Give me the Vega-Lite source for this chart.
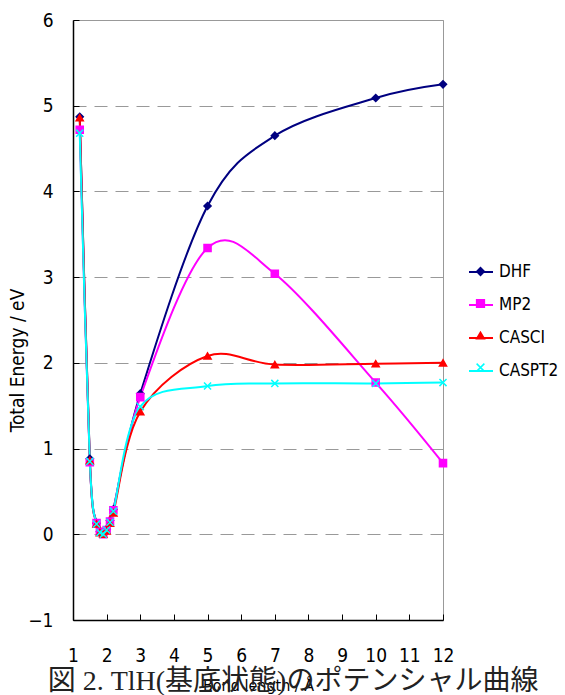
{
  "$schema": "https://vega.github.io/schema/vega-lite/v6.json",
  "width": 370,
  "height": 600,
  "autosize": {"type": "none"},
  "padding": {"left": 73, "top": 20, "right": 122, "bottom": 75},
  "background": "white",
  "title": {
    "text": "図 2. TlH(基底状態)のポテンシャル曲線",
    "orient": "bottom",
    "anchor": "middle",
    "frame": "group",
    "font": "Liberation Serif, Noto Sans CJK JP",
    "fontSize": 28,
    "fontWeight": "normal",
    "color": "#222",
    "offset": -25,
    "dx": 35
  },
  "config": {
    "view": {"stroke": "#999", "strokeWidth": 1},
    "font": "DejaVu Sans Condensed",
    "legend": {"padding": 0}
  },
  "data": {
    "values": [
      {"series": "DHF", "x": 1.2, "y": 4.87},
      {"series": "DHF", "x": 1.5, "y": 0.88},
      {"series": "DHF", "x": 1.7, "y": 0.13},
      {"series": "DHF", "x": 1.8, "y": 0.03},
      {"series": "DHF", "x": 1.9, "y": 0.01},
      {"series": "DHF", "x": 2.0, "y": 0.06},
      {"series": "DHF", "x": 2.1, "y": 0.16},
      {"series": "DHF", "x": 2.2, "y": 0.29},
      {"series": "DHF", "x": 3, "y": 1.64},
      {"series": "DHF", "x": 5, "y": 3.83},
      {"series": "DHF", "x": 7, "y": 4.65},
      {"series": "DHF", "x": 10, "y": 5.09},
      {"series": "DHF", "x": 12, "y": 5.25},
      {"series": "MP2", "x": 1.2, "y": 4.72},
      {"series": "MP2", "x": 1.5, "y": 0.84},
      {"series": "MP2", "x": 1.7, "y": 0.13},
      {"series": "MP2", "x": 1.8, "y": 0.03},
      {"series": "MP2", "x": 1.9, "y": 0.0},
      {"series": "MP2", "x": 2.0, "y": 0.05},
      {"series": "MP2", "x": 2.1, "y": 0.15},
      {"series": "MP2", "x": 2.2, "y": 0.28},
      {"series": "MP2", "x": 3, "y": 1.60},
      {"series": "MP2", "x": 5, "y": 3.34},
      {"series": "MP2", "x": 7, "y": 3.04},
      {"series": "MP2", "x": 10, "y": 1.77},
      {"series": "MP2", "x": 12, "y": 0.83},
      {"series": "CASCI", "x": 1.2, "y": 4.86},
      {"series": "CASCI", "x": 1.5, "y": 0.86},
      {"series": "CASCI", "x": 1.7, "y": 0.12},
      {"series": "CASCI", "x": 1.8, "y": 0.02},
      {"series": "CASCI", "x": 1.9, "y": 0.0},
      {"series": "CASCI", "x": 2.0, "y": 0.04},
      {"series": "CASCI", "x": 2.1, "y": 0.13},
      {"series": "CASCI", "x": 2.2, "y": 0.25},
      {"series": "CASCI", "x": 3, "y": 1.43},
      {"series": "CASCI", "x": 5, "y": 2.08},
      {"series": "CASCI", "x": 7, "y": 1.98},
      {"series": "CASCI", "x": 10, "y": 1.99},
      {"series": "CASCI", "x": 12, "y": 2.00},
      {"series": "CASPT2", "x": 1.2, "y": 4.68},
      {"series": "CASPT2", "x": 1.5, "y": 0.85},
      {"series": "CASPT2", "x": 1.7, "y": 0.12},
      {"series": "CASPT2", "x": 1.8, "y": 0.02},
      {"series": "CASPT2", "x": 1.9, "y": 0.0},
      {"series": "CASPT2", "x": 2.0, "y": 0.05},
      {"series": "CASPT2", "x": 2.1, "y": 0.14},
      {"series": "CASPT2", "x": 2.2, "y": 0.27},
      {"series": "CASPT2", "x": 3, "y": 1.49},
      {"series": "CASPT2", "x": 5, "y": 1.73},
      {"series": "CASPT2", "x": 7, "y": 1.76},
      {"series": "CASPT2", "x": 10, "y": 1.76},
      {"series": "CASPT2", "x": 12, "y": 1.77}
    ]
  },
  "encoding": {
    "x": {
      "field": "x",
      "type": "quantitative",
      "scale": {"domain": [1, 12], "nice": false, "zero": false},
      "axis": {
        "values": [1, 2, 3, 4, 5, 6, 7, 8, 9, 10, 11, 12],
        "grid": false,
        "domainColor": "black",
        "domainWidth": 1.5,
        "tickColor": "black",
        "tickSize": -6,
        "labelFont": "DejaVu Sans Condensed",
        "labelFontSize": 19,
        "labelColor": "black",
        "labelPadding": 32,
        "labelFlush": false,
        "title": "Bond length / Å",
        "titleFont": "DejaVu Sans Condensed",
        "titleFontSize": 16,
        "titleFontWeight": "normal",
        "titleColor": "black",
        "titlePadding": 12
      }
    },
    "y": {
      "field": "y",
      "type": "quantitative",
      "scale": {"domain": [-1, 6], "nice": false, "zero": false},
      "axis": {
        "values": [-1, 0, 1, 2, 3, 4, 5, 6],
        "grid": true,
        "gridColor": "#999",
        "gridDash": [13, 8],
        "gridWidth": 1,
        "domainColor": "black",
        "domainWidth": 1.5,
        "tickColor": "black",
        "tickSize": -6,
        "labelFont": "DejaVu Sans Condensed",
        "labelFontSize": 19,
        "labelColor": "black",
        "labelPadding": 26,
        "labelFlush": false,
        "title": "Total Energy / eV",
        "titleFont": "DejaVu Sans Condensed",
        "titleFontSize": 19,
        "titleFontWeight": "normal",
        "titleColor": "black",
        "titleX": -46,
        "titleY": 340
      }
    }
  },
  "layer": [
    {
      "mark": {"type": "line", "interpolate": "cardinal", "strokeWidth": 2},
      "encoding": {
        "color": {
          "field": "series",
          "type": "nominal",
          "sort": ["DHF", "MP2", "CASCI", "CASPT2"],
          "scale": {"range": ["#000080", "#FF00FF", "#FF0000", "#00FFFF"]},
          "title": null,
          "legend": {
            "orient": "none",
            "legendX": 395,
            "legendY": 239,
            "symbolType": "stroke",
            "symbolSize": 576,
            "symbolStrokeWidth": 2,
            "labelFont": "DejaVu Sans Condensed",
            "labelFontSize": 17,
            "labelColor": "black",
            "rowPadding": 12,
            "labelOffset": 5
          }
        },
        "detail": {"field": "series"}
      }
    },
    {
      "mark": {"type": "point", "filled": true, "size": 50, "strokeWidth": 1.5, "opacity": 1},
      "encoding": {
        "fill": {
          "field": "series",
          "type": "nominal",
          "scale": {"domain": ["DHF", "MP2", "CASCI", "CASPT2"], "range": ["#000080", "#FF00FF", "#FF0000", "#00FFFF"]},
          "title": null,
          "legend": {
            "orient": "none",
            "legendX": 399,
            "legendY": 243,
            "labelFont": "DejaVu Sans Condensed",
            "labelFontSize": 17,
            "labelColor": "black",
            "labelOpacity": 0,
            "rowPadding": 14,
            "symbolSize": 60,
            "symbolStrokeWidth": 1.5,
            "labelOffset": 5
          }
        },
        "stroke": {
          "field": "series",
          "type": "nominal",
          "scale": {"domain": ["DHF", "MP2", "CASCI", "CASPT2"], "range": ["#000080", "#FF00FF", "#FF0000", "#00FFFF"]},
          "title": null
        },
        "shape": {
          "field": "series",
          "type": "nominal",
          "scale": {"domain": ["DHF", "MP2", "CASCI", "CASPT2"], "range": ["diamond", "square", "triangle-up", "M-1,-1L1,1M-1,1L1,-1"]},
          "title": null
        }
      }
    }
  ]
}
